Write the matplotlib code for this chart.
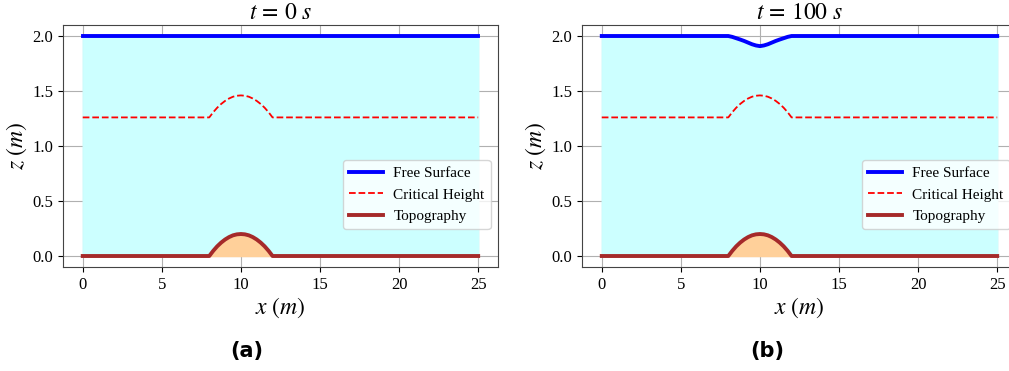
import numpy as np
import matplotlib
matplotlib.use('Agg')
import matplotlib.pyplot as plt

plt.rcParams['font.family'] = ['Liberation Serif', 'DejaVu Serif']
plt.rcParams['mathtext.fontset'] = 'stix'

# positions along the channel (m)
x = [0, 8, 8.25, 8.5, 8.75, 9, 9.25, 9.5, 9.75, 10,
     10.25, 10.5, 10.75, 11, 11.25, 11.5, 11.75, 12, 25]
# bed elevation
topo = [0, 0, 0.047, 0.088, 0.122, 0.15, 0.172, 0.188, 0.197, 0.2,
        0.197, 0.188, 0.172, 0.15, 0.122, 0.088, 0.047, 0, 0]
# critical height line
crit = [1.26, 1.26, 1.307, 1.348, 1.382, 1.41, 1.432, 1.448, 1.457, 1.46,
        1.457, 1.448, 1.432, 1.41, 1.382, 1.348, 1.307, 1.26, 1.26]
# free surface at t = 0 and t = 100 s
surf_0 = [2.0] * 19
surf_100 = [2.0, 2.0, 1.992, 1.98, 1.968, 1.955, 1.94, 1.925, 1.914, 1.908,
            1.914, 1.925, 1.94, 1.955, 1.968, 1.98, 1.992, 2.0, 2.0]

titles = [r'$t\,=\,0\ s$', r'$t\,=\,100\ s$']
panels = ['(a)', '(b)']
surfaces = [surf_0, surf_100]

fig = plt.figure(figsize=(10.09, 3.71), dpi=100)
lefts = [0.0624, 0.5768]
caption_x = [0.245, 0.760]

for i in range(2):
    ax = fig.add_axes([lefts[i], 0.2803, 0.4311, 0.6523])
    xs = np.array(x)
    tp = np.array(topo)
    sf = np.array(surfaces[i])
    ax.fill_between(xs, tp, sf, color='#ccffff', zorder=1)
    ax.fill_between(xs, 0, tp, color='#ffd09a', zorder=1)
    ax.plot(xs, sf, color='blue', lw=2.8, label='Free Surface', zorder=3)
    ax.plot(xs, crit, color='red', lw=1.3, ls='--', label='Critical Height', zorder=3)
    ax.plot(xs, tp, color='brown', lw=2.8, label='Topography', zorder=3)
    ax.grid(True, color='#b0b0b0', lw=0.8, zorder=0)
    ax.set_axisbelow(True)
    ax.set_xticks([0, 5, 10, 15, 20, 25])
    ax.set_yticks([0.0, 0.5, 1.0, 1.5, 2.0])
    ax.tick_params(labelsize=12)
    for s in ax.spines.values():
        s.set_color('#444444')
    ax.set_title(titles[i], fontsize=17, pad=4)
    ax.set_xlabel(r'$x\ (m)$', fontsize=17, labelpad=2)
    ax.set_ylabel(r'$z\ (m)$', fontsize=17, labelpad=2)
    ax.legend(loc='lower right', bbox_to_anchor=(0.983, 0.157), borderaxespad=0,
              fontsize=11, handlelength=2.2, handletextpad=0.7, framealpha=0.8)
    fig.text(caption_x[i], 0.055, panels[i], fontsize=15, fontweight='bold',
             family='DejaVu Sans', ha='center', va='center')

fig.savefig('out.png', dpi=100)
